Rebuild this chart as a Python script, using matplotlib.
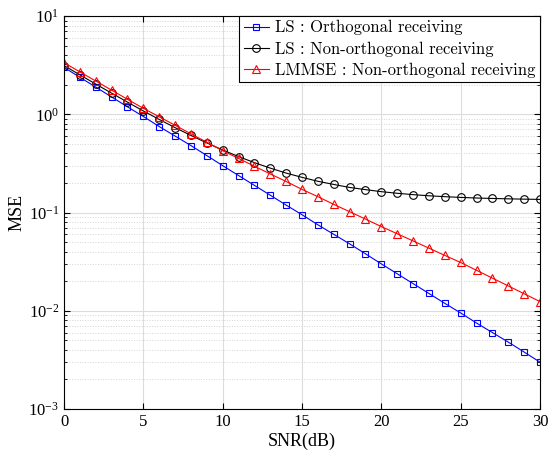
import numpy as np
import matplotlib
matplotlib.use('Agg')
import matplotlib.pyplot as plt
from matplotlib.ticker import LogLocator, NullFormatter

plt.rcParams['font.family'] = ['Liberation Serif', 'DejaVu Serif']
plt.rcParams['mathtext.fontset'] = 'stix'

# SNR em dB
snr = list(range(0, 31))

# MSE
mse_ls_orth = [3.0, 2.38, 1.89, 1.50, 1.19, 0.95, 0.75, 0.60, 0.48, 0.38,
               0.30, 0.238, 0.189, 0.150, 0.119, 0.095, 0.075, 0.060, 0.048, 0.038,
               0.030, 0.0238, 0.0189, 0.0150, 0.0119, 0.0095, 0.0075, 0.0060, 0.0048, 0.0038,
               0.0030]
mse_ls_nonorth = [3.13, 2.52, 2.03, 1.64, 1.33, 1.08, 0.886, 0.731, 0.609, 0.511,
                  0.433, 0.371, 0.322, 0.283, 0.252, 0.228, 0.208, 0.193, 0.180, 0.171,
                  0.163, 0.157, 0.152, 0.148, 0.145, 0.1425, 0.1405, 0.139, 0.1378, 0.1368,
                  0.136]
mse_lmmse_nonorth = [3.35, 2.70, 2.18, 1.76, 1.42, 1.15, 0.942, 0.773, 0.632, 0.519,
                     0.426, 0.355, 0.296, 0.247, 0.207, 0.172, 0.145, 0.121, 0.102, 0.0857,
                     0.0719, 0.0608, 0.0514, 0.0434, 0.0366, 0.0310, 0.0258, 0.0215, 0.0179, 0.0149,
                     0.0124]

legendas = ['LS : Orthogonal receiving',
            'LS : Non-orthogonal receiving',
            'LMMSE : Non-orthogonal receiving']

fig = plt.figure(figsize=(5.48, 4.59), dpi=100)
ax = fig.add_axes([0.1168, 0.1089, 0.8686, 0.8562])

ax.semilogy(snr, mse_ls_orth, color='blue', marker='s', markersize=4.5,
            markerfacecolor='none', markeredgewidth=0.8, linewidth=0.8, label=legendas[0])
ax.semilogy(snr, mse_ls_nonorth, color='black', marker='o', markersize=5.5,
            markerfacecolor='none', markeredgewidth=0.8, linewidth=0.8, label=legendas[1])
ax.semilogy(snr, mse_lmmse_nonorth, color='red', marker='^', markersize=6,
            markerfacecolor='none', markeredgewidth=0.8, linewidth=0.8, label=legendas[2])

ax.set_xlim(0, 30)
ax.set_ylim(1e-3, 1e1)
ax.set_xticks(range(0, 31, 5))
ax.yaxis.set_major_locator(LogLocator(base=10, numticks=10))
ax.yaxis.set_minor_locator(LogLocator(base=10, subs=np.arange(2, 10), numticks=20))
ax.yaxis.set_minor_formatter(NullFormatter())

ax.grid(True, which='major', color='#dcdcdc', linewidth=0.8)
ax.grid(True, which='minor', axis='y', color='#d5d5d5', linestyle=':', linewidth=0.7)
ax.set_axisbelow(True)

ax.tick_params(which='both', direction='in', top=True, right=True, labelsize=12)
ax.tick_params(which='major', length=4)
ax.tick_params(which='minor', length=2)
for s in ax.spines.values():
    s.set_linewidth(0.8)

ax.set_xlabel('SNR(dB)', fontsize=13, labelpad=2)
ax.set_ylabel('MSE', fontsize=13, labelpad=2)

leg = ax.legend(loc='upper right', borderaxespad=0, fancybox=False,
                framealpha=1, edgecolor='black', handlelength=1.5,
                handletextpad=0.4, borderpad=0.25, labelspacing=0.35,
                prop={'family': 'cmr10', 'size': 12})
leg.get_frame().set_linewidth(0.8)

fig.savefig('out.png', dpi=100)
